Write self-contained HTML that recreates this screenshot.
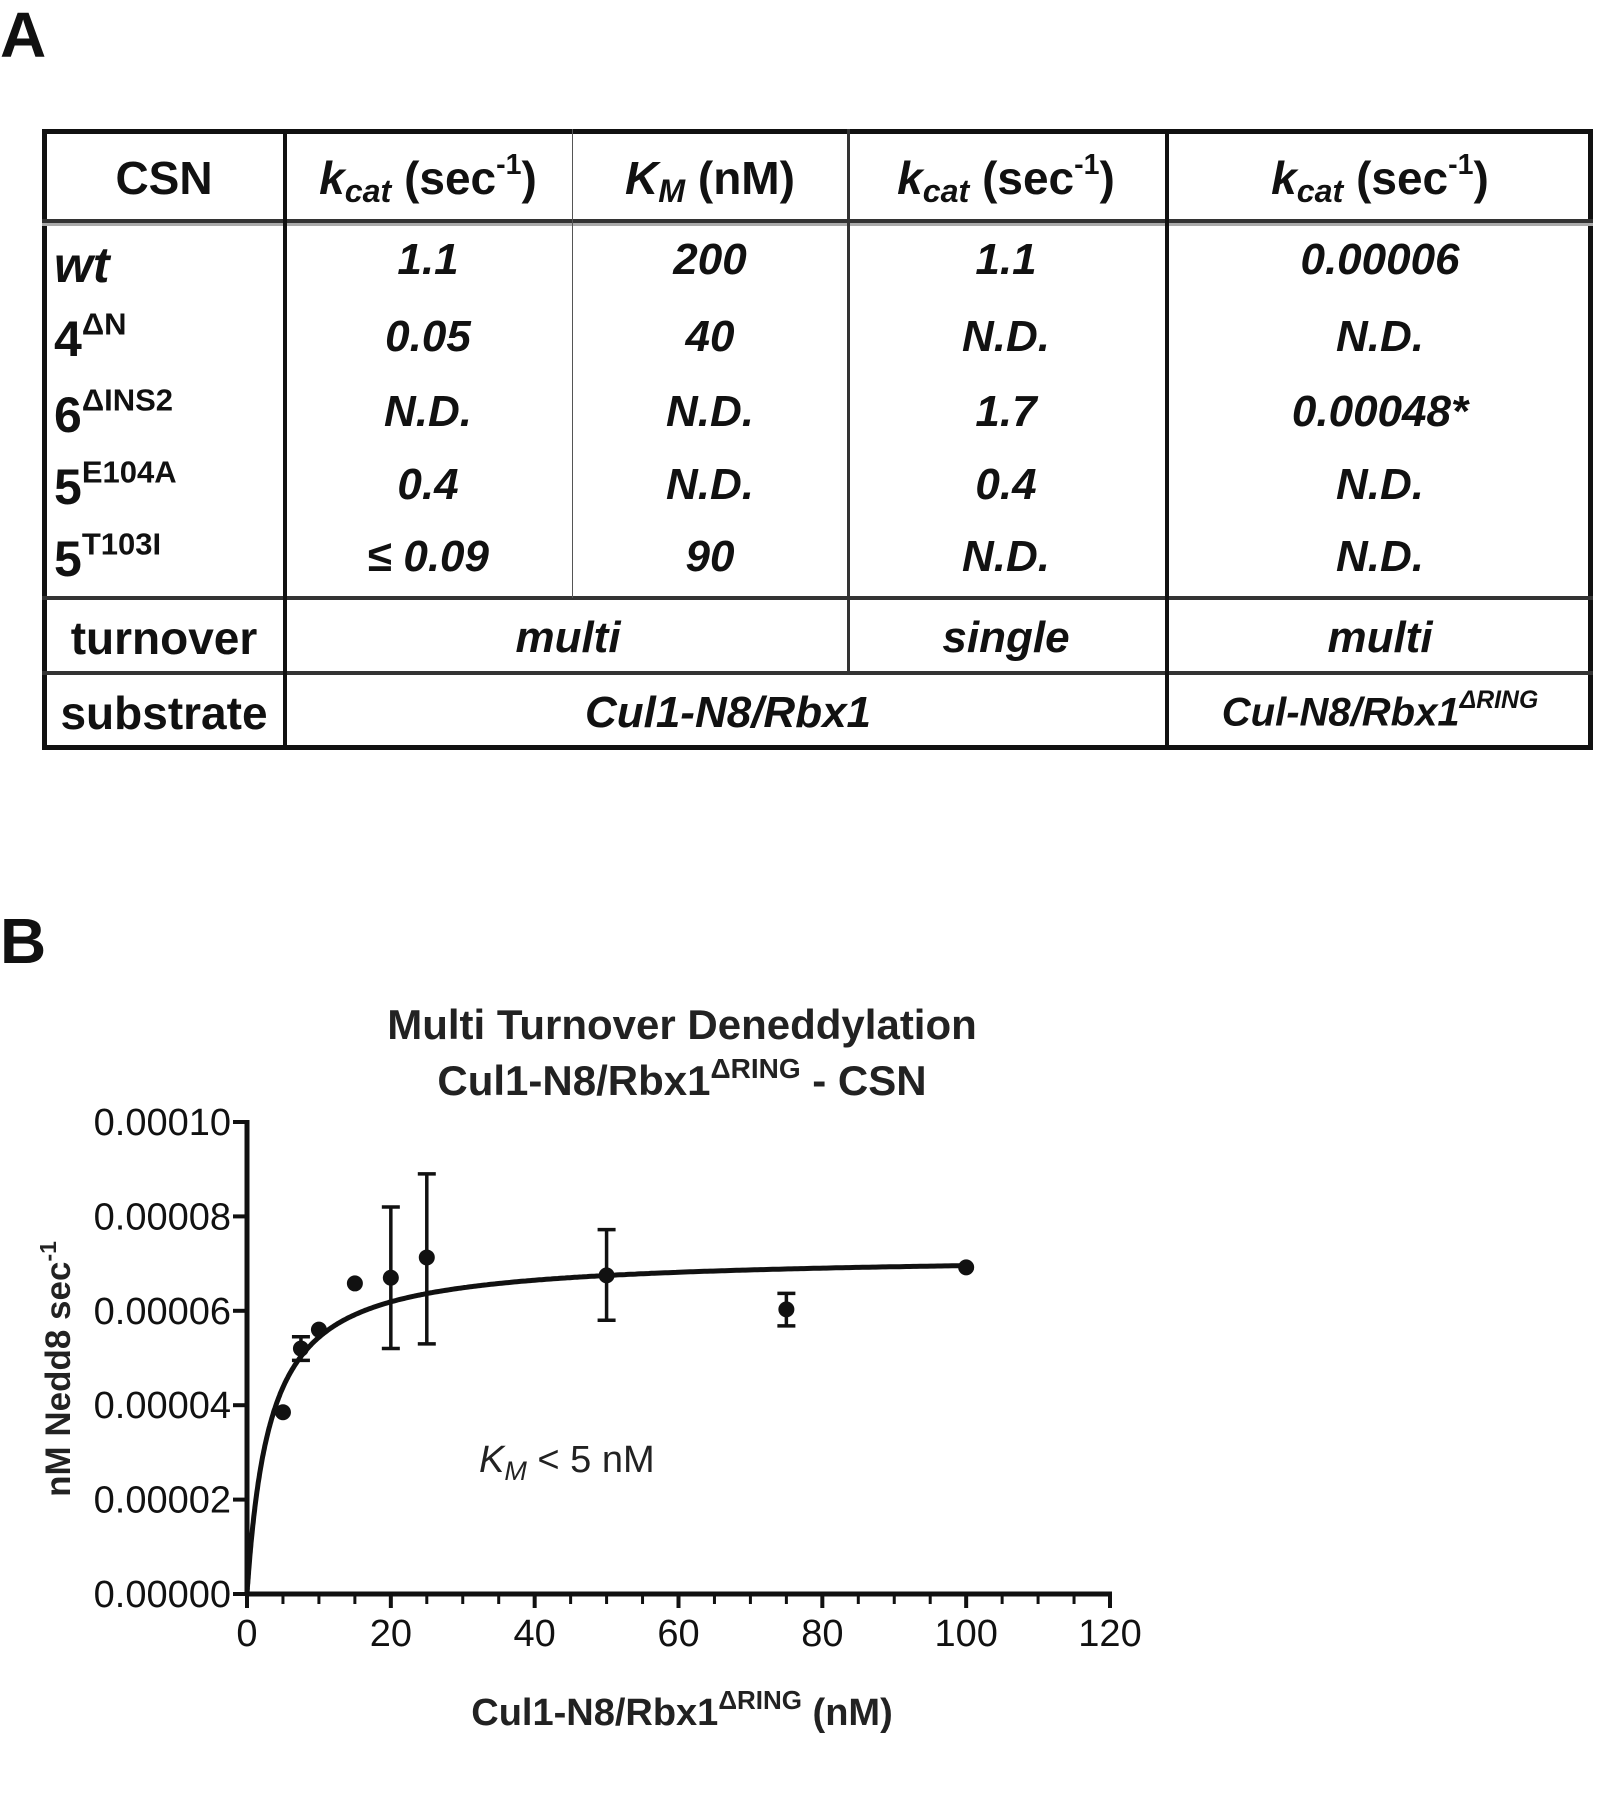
<!DOCTYPE html>
<html><head><meta charset="utf-8">
<style>
body{margin:0;background:#fff;width:1606px;height:1799px;position:relative;overflow:hidden;font-family:"Liberation Sans",Arial,sans-serif;color:#111}
.abs{position:absolute}
.ln{position:absolute;background:#111}
.c{position:absolute;transform:translate(-50%,-50%);white-space:nowrap;font-weight:bold}
.i{font-style:italic}
.h{font-size:46px}
.b{font-size:44px;font-style:italic}
sup{font-size:0.62em;vertical-align:0.7em;line-height:0}
sub{font-size:0.7em;vertical-align:-0.25em;line-height:0}
</style></head><body>
<div class="abs" style="left:0;top:0;font-size:64px;font-weight:bold;line-height:70px">A</div>
<div class="abs" style="left:0;top:906px;font-size:64px;font-weight:bold;line-height:70px">B</div>

<div>
<div class="ln" style="left:42px;top:129px;width:1551px;height:5px"></div>
<div class="ln" style="left:42px;top:745px;width:1551px;height:5px"></div>
<div class="ln" style="left:42px;top:129px;width:5px;height:621px"></div>
<div class="ln" style="left:1588px;top:129px;width:5px;height:621px"></div>
<div class="ln" style="left:42px;top:219px;width:1551px;height:4px;background:#333"></div>
<div class="ln" style="left:42px;top:223px;width:1551px;height:3px;background:#aaa"></div>
<div class="ln" style="left:42px;top:596px;width:1551px;height:4px;background:#333"></div>
<div class="ln" style="left:42px;top:671px;width:1551px;height:4px;background:#333"></div>
<div class="ln" style="left:283px;top:129px;width:4px;height:621px"></div>
<div class="ln" style="left:572px;top:129px;width:1px;height:469px;background:#555"></div>
<div class="ln" style="left:847px;top:129px;width:3px;height:544px;background:#333"></div>
<div class="ln" style="left:1165px;top:129px;width:4px;height:621px"></div>

<div class="c h" style="left:164px;top:178px">CSN</div>
<div class="c h" style="left:428px;top:178px"><i>k<sub>cat</sub></i> (sec<sup>-1</sup>)</div>
<div class="c h" style="left:710px;top:178px"><i>K<sub>M</sub></i> (nM)</div>
<div class="c h" style="left:1006px;top:178px"><i>k<sub>cat</sub></i> (sec<sup>-1</sup>)</div>
<div class="c h" style="left:1380px;top:178px"><i>k<sub>cat</sub></i> (sec<sup>-1</sup>)</div>

<div class="abs" style="left:54px;top:236px;font-size:50px;font-weight:bold;font-style:italic">wt</div>
<div class="abs" style="left:54px;top:310px;font-size:50px;font-weight:bold">4<sup>ΔN</sup></div>
<div class="abs" style="left:54px;top:386px;font-size:50px;font-weight:bold">6<sup>ΔINS2</sup></div>
<div class="abs" style="left:54px;top:458px;font-size:50px;font-weight:bold">5<sup>E104A</sup></div>
<div class="abs" style="left:54px;top:530px;font-size:50px;font-weight:bold">5<sup>T103I</sup></div>

<div id="cells"></div>

<div class="c h" style="left:164px;top:638px">turnover</div>
<div class="c b" style="left:568px;top:638px">multi</div>
<div class="c b" style="left:1006px;top:638px">single</div>
<div class="c b" style="left:1380px;top:638px">multi</div>
<div class="c h" style="left:164px;top:713px">substrate</div>
<div class="c b" style="left:728px;top:713px">Cul1-N8/Rbx1</div>
<div class="c b" style="left:1380px;top:713px;font-size:40px">Cul-N8/Rbx1<sup>ΔRING</sup></div>
</div>

<svg class="abs" style="left:0;top:0" width="1606" height="1799" id="chart" font-family="Liberation Sans, Arial, sans-serif"></svg>

<script>
// Table values
const tableCols=[428,710,1006,1380];
const tableRowsY=[260,337,412,485,557];
const tableValues=[
 ["1.1","200","1.1","0.00006"],
 ["0.05","40","N.D.","N.D."],
 ["N.D.","N.D.","1.7","0.00048*"],
 ["0.4","N.D.","0.4","N.D."],
 ["≤ 0.09","90","N.D.","N.D."]];
const cells=document.getElementById('cells');
tableValues.forEach((row,r)=>row.forEach((v,c)=>{
 const d=document.createElement('div');
 d.className='c b';
 d.style.left=tableCols[c]+'px';d.style.top=tableRowsY[r]+'px';
 d.textContent=v;
 
 
 cells.appendChild(d);
}));

// Chart data
const xVals=[5,7.5,10,15,20,25,50,75,100];
const yVals=[0.0000385,0.000052,0.000056,0.0000658,0.000067,0.0000713,0.0000675,0.0000603,0.0000692];
const errLo=[null,0.0000495,null,null,0.000052,0.000053,0.000058,0.0000568,null];
const errHi=[null,0.0000545,null,null,0.000082,0.000089,0.0000772,0.0000637,null];
const fitVmax=0.0000718, fitKm=3.2;
const xTicks=[0,20,40,60,80,100,120];
const yTicks=[0,0.00002,0.00004,0.00006,0.00008,0.0001];
const yTickLabels=["0.00000","0.00002","0.00004","0.00006","0.00008","0.00010"];

const X0=247,X1=1110,Y0=1594,Y1=1122;
const sx=v=>X0+(v-0)/120*(X1-X0);
const sy=v=>Y0-(v/0.0001)*(Y0-Y1);
const svg=document.getElementById('chart');
const NS='http://www.w3.org/2000/svg';
function mk(t,a,parent){const e=document.createElementNS(NS,t);for(const k in a)e.setAttribute(k,a[k]);(parent||svg).appendChild(e);return e;}

let e;
e=mk('line',{x1:X0,y1:Y1-2,x2:X0,y2:Y0+2,stroke:'#111','stroke-width':5});


e=mk('line',{x1:X0-2,y1:Y0,x2:X1+2,y2:Y0,stroke:'#111','stroke-width':5});


for(let v=0;v<=120;v+=5){
 const major=v%20===0;
 e=mk('line',{x1:sx(v),y1:Y0,x2:sx(v),y2:Y0+(major?14:10),stroke:'#111','stroke-width':major?4:3});
 
 
}
xTicks.forEach(v=>{
 e=mk('text',{x:sx(v),y:Y0+52,'font-size':38,'text-anchor':'middle',fill:'#111'});
 e.textContent=v;
 
 
});
yTicks.forEach((v,i)=>{
 e=mk('line',{x1:X0-14,y1:sy(v),x2:X0,y2:sy(v),stroke:'#111','stroke-width':4});
 
 
 e=mk('text',{x:X0-16,y:sy(v)+13,'font-size':38,'text-anchor':'end',fill:'#111'});
 e.textContent=yTickLabels[i];
 
 
});
// fit curve
let d='';
for(let i=0;i<=400;i++){const x=Math.pow(i/400,2)*100;const y=fitVmax*x/(fitKm+x);d+=(i?'L':'M')+sx(x).toFixed(1)+' '+sy(y).toFixed(1);}
e=mk('path',{d:d,fill:'none',stroke:'#111','stroke-width':5});


xVals.forEach((x,i)=>{
 if(errLo[i]!=null){
  const g=mk('g',{stroke:'#111','stroke-width':3.5});
  
  
  mk('line',{x1:sx(x),y1:sy(errLo[i]),x2:sx(x),y2:sy(errHi[i])},g);
  mk('line',{x1:sx(x)-9,y1:sy(errLo[i]),x2:sx(x)+9,y2:sy(errLo[i])},g);
  mk('line',{x1:sx(x)-9,y1:sy(errHi[i]),x2:sx(x)+9,y2:sy(errHi[i])},g);
 }
 e=mk('circle',{cx:sx(x),cy:sy(yVals[i]),r:8,fill:'#111'});
 
 
});
// titles
e=mk('text',{x:682,y:1039,'font-size':42,'font-weight':'bold','text-anchor':'middle',fill:'#222'});
e.textContent='Multi Turnover Deneddylation';


e=mk('text',{x:682,y:1095,'font-size':42,'font-weight':'bold','text-anchor':'middle',fill:'#222'});
e.innerHTML='Cul1-N8/Rbx1<tspan font-size="28" dy="-17">ΔRING</tspan><tspan dy="17"> - CSN</tspan>';


e=mk('text',{x:682,y:1725,'font-size':38,'font-weight':'bold','text-anchor':'middle',fill:'#222'});
e.innerHTML='Cul1-N8/Rbx1<tspan font-size="26" dy="-16">ΔRING</tspan><tspan dy="16"> (nM)</tspan>';


e=mk('text',{x:0,y:0,'font-size':35,'font-weight':'bold','text-anchor':'middle',fill:'#222',transform:'translate(70,1369) rotate(-90)'});
e.innerHTML='nM Nedd8 sec<tspan font-size="23" dy="-14">-1</tspan>';


e=mk('text',{x:479,y:1472,'font-size':38,fill:'#222'});
e.innerHTML='<tspan font-style="italic">K</tspan><tspan font-style="italic" font-size="27" dy="8">M</tspan><tspan dy="-8"> &lt; 5 nM</tspan>';


</script>
</body></html>
